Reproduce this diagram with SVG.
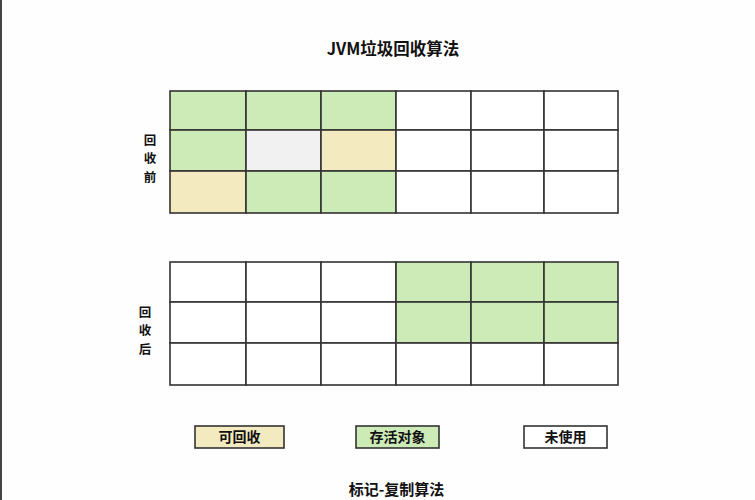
<svg xmlns="http://www.w3.org/2000/svg" width="755" height="500" viewBox="0 0 755 500">
<style>
.c{stroke:#333;stroke-width:1.6}
.g{fill:#cdebb7}
.y{fill:#f4eac0}
.e{fill:#f1f1f1}
.w{fill:#ffffff}
.t{font-family:"Noto Sans CJK SC","Noto Sans",sans-serif;font-weight:bold;fill:#111;text-anchor:middle}
.s{font-size:12.5px}
</style>
<rect x="0" y="0" width="755" height="500" fill="#fefefe"/>
<rect x="0" y="0" width="2" height="500" fill="#444"/>
<text class="t" x="393" y="55" font-size="16.5">JVM垃圾回收算法</text>
<g id="before">
<rect class="c g" x="170" y="91" width="76" height="39"/>
<rect class="c g" x="246" y="91" width="75" height="39"/>
<rect class="c g" x="321" y="91" width="75" height="39"/>
<rect class="c w" x="396" y="91" width="75" height="39"/>
<rect class="c w" x="471" y="91" width="73" height="39"/>
<rect class="c w" x="544" y="91" width="74" height="39"/>
<rect class="c g" x="170" y="130" width="76" height="41"/>
<rect class="c e" x="246" y="130" width="75" height="41"/>
<rect class="c y" x="321" y="130" width="75" height="41"/>
<rect class="c w" x="396" y="130" width="75" height="41"/>
<rect class="c w" x="471" y="130" width="73" height="41"/>
<rect class="c w" x="544" y="130" width="74" height="41"/>
<rect class="c y" x="170" y="171" width="76" height="42"/>
<rect class="c g" x="246" y="171" width="75" height="42"/>
<rect class="c g" x="321" y="171" width="75" height="42"/>
<rect class="c w" x="396" y="171" width="75" height="42"/>
<rect class="c w" x="471" y="171" width="73" height="42"/>
<rect class="c w" x="544" y="171" width="74" height="42"/>
</g>
<g id="label-before">
<text class="t s" x="150" y="144.5">回</text>
<text class="t s" x="150" y="163">收</text>
<text class="t s" x="150" y="181.5">前</text>
</g>
<g id="after">
<rect class="c w" x="170" y="262" width="76" height="40"/>
<rect class="c w" x="246" y="262" width="75" height="40"/>
<rect class="c w" x="321" y="262" width="75" height="40"/>
<rect class="c g" x="396" y="262" width="75" height="40"/>
<rect class="c g" x="471" y="262" width="73" height="40"/>
<rect class="c g" x="544" y="262" width="74" height="40"/>
<rect class="c w" x="170" y="302" width="76" height="41"/>
<rect class="c w" x="246" y="302" width="75" height="41"/>
<rect class="c w" x="321" y="302" width="75" height="41"/>
<rect class="c g" x="396" y="302" width="75" height="41"/>
<rect class="c g" x="471" y="302" width="73" height="41"/>
<rect class="c g" x="544" y="302" width="74" height="41"/>
<rect class="c w" x="170" y="343" width="76" height="42"/>
<rect class="c w" x="246" y="343" width="75" height="42"/>
<rect class="c w" x="321" y="343" width="75" height="42"/>
<rect class="c w" x="396" y="343" width="75" height="42"/>
<rect class="c w" x="471" y="343" width="73" height="42"/>
<rect class="c w" x="544" y="343" width="74" height="42"/>
</g>
<g id="label-after">
<text class="t s" x="145" y="316.5">回</text>
<text class="t s" x="145" y="335">收</text>
<text class="t s" x="145" y="353.5">后</text>
</g>
<g id="legend-recyclable">
<rect class="c y" x="195" y="426" width="89" height="22"/>
<text class="t" x="239.5" y="442" font-size="14">可回收</text>
</g>
<g id="legend-live">
<rect class="c g" x="356" y="426" width="83" height="22"/>
<text class="t" x="397.5" y="442" font-size="14">存活对象</text>
</g>
<g id="legend-unused">
<rect class="c w" x="524" y="426" width="83" height="22"/>
<text class="t" x="565.5" y="442" font-size="14">未使用</text>
</g>
<text class="t" x="396.5" y="495" font-size="15">标记-复制算法</text>
</svg>
